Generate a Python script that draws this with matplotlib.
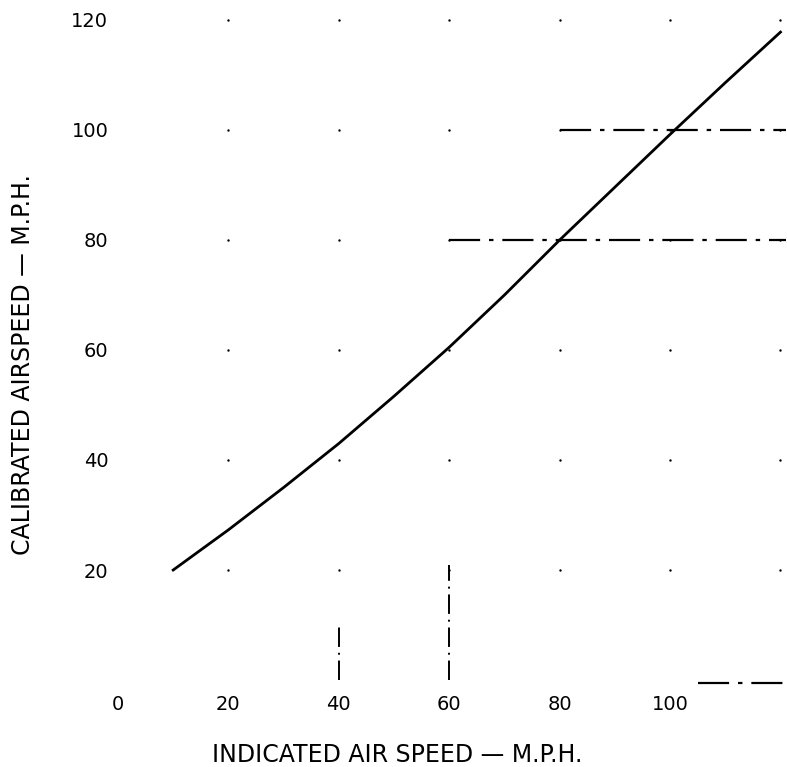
import matplotlib.pyplot as plt
import numpy as np

# calibration curve
ias = [10, 20, 30, 40, 50, 60, 70, 80, 90, 100, 110, 120]
cas = [20, 27.3, 35, 43, 51.6, 60.5, 70, 80, 89.6, 99.2, 108.6, 117.8]

x_ticks = [0, 20, 40, 60, 80, 100]
y_ticks = [20, 40, 60, 80, 100, 120]

# reference lines drawn on the original
h_lines = [(100, 80, 121), (80, 60, 121), (-0.5, 105, 121)]   # (y, x_start, x_end)
v_lines = [(40, 0, 10), (60, 0, 21)]                           # (x, y_start, y_end)

fig = plt.figure(figsize=(7.87, 7.67), dpi=100)
ax = fig.add_axes([118 / 787, 1 - 680 / 767, 668 / 787, 676.5 / 767])

# grid remnants: small dots at intersections
gx, gy = np.meshgrid(x_ticks[1:] + [120], y_ticks)
ax.scatter(gx.ravel(), gy.ravel(), s=3, color='black', linewidths=0, zorder=1)

ax.plot(ias, cas, color='black', linewidth=2.0, zorder=3)

for y, x0, x1 in h_lines:
    ax.plot([x0, x1], [y, y], color='black', linewidth=1.6,
            linestyle=(0, (14, 4, 2, 4)), zorder=2, clip_on=False)
for x, y0, y1 in v_lines:
    ax.plot([x, x], [y0, y1], color='black', linewidth=1.4,
            linestyle=(0, (10, 3, 1, 3)), zorder=2)

ax.set_xlim(0, 121)
ax.set_ylim(0, 123)
for s in ax.spines.values():
    s.set_visible(False)

ax.set_xticks(x_ticks)
ax.set_yticks(y_ticks)
ax.tick_params(length=0, labelsize=14)
ax.tick_params(axis='x', pad=11)
ax.tick_params(axis='y', pad=7)

ax.set_xlabel('INDICATED AIR SPEED — M.P.H.', fontsize=17)
ax.set_ylabel('CALIBRATED AIRSPEED — M.P.H.', fontsize=17)
ax.xaxis.set_label_coords(0.418, -0.093)
ax.yaxis.set_label_coords(-0.125, 0.466)

fig.savefig('out.png', dpi=100)
